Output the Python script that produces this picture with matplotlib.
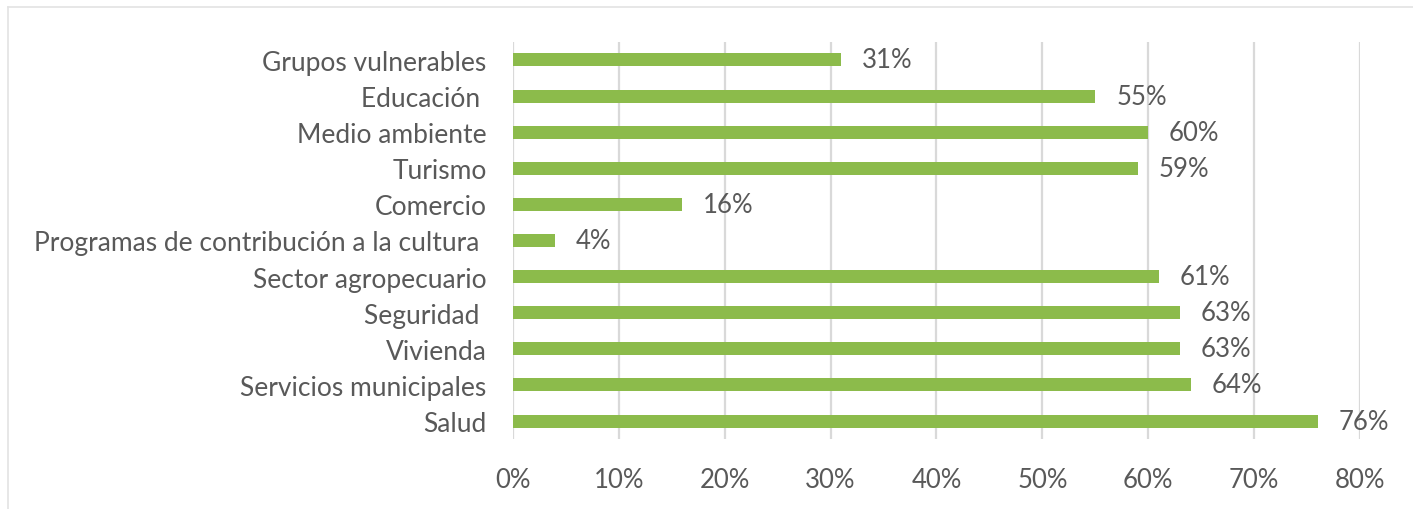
import matplotlib
matplotlib.use("Agg")
import matplotlib.pyplot as plt
from matplotlib.lines import Line2D
from matplotlib.ticker import FuncFormatter, MultipleLocator

# data, top to bottom as shown in the chart
categories = [
    "Grupos vulnerables",
    "Educación ",
    "Medio ambiente",
    "Turismo",
    "Comercio",
    "Programas de contribución a la cultura ",
    "Sector agropecuario",
    "Seguridad ",
    "Vivienda",
    "Servicios municipales",
    "Salud",
]
values = [31, 55, 60, 59, 16, 4, 61, 63, 63, 64, 76]

green = "#8CBB4B"
text_gray = "#595959"
grid_gray = "#D9D9D9"

plt.rcParams["font.family"] = ["Lato", "DejaVu Sans"]

fig = plt.figure(figsize=(14.13, 5.10), dpi=100)
ax = fig.add_axes([0.363, 0.137, 0.5995, 0.779])

ypos = list(range(len(categories)))
ax.barh(ypos, values, height=0.36, color=green, zorder=3)
ax.set_ylim(len(categories) - 0.5, -0.5)
ax.set_xlim(0, 80)

for y, v in zip(ypos, values):
    ax.annotate(f"{v}%", (v, y), xytext=(15, 0), textcoords="offset points",
                ha="left", va="center", fontsize=18.5, color=text_gray)

ax.set_yticks(ypos)
ax.set_yticklabels(categories, fontsize=19)
ax.xaxis.set_major_locator(MultipleLocator(10))
ax.xaxis.set_major_formatter(FuncFormatter(lambda x, _: f"{x:.0f}%"))
ax.tick_params(axis="both", length=0, labelcolor=text_gray)
ax.tick_params(axis="x", labelsize=18.5, pad=20)
ax.tick_params(axis="y", pad=19)

ax.grid(axis="x", color=grid_gray, linewidth=1.6, zorder=0)
for s in ax.spines.values():
    s.set_visible(False)

# light outer frame (top and left edges only)
fig.add_artist(Line2D([8 / 1413, 1], [1 - 8 / 510] * 2, color="#E3E3E3", lw=1.2))
fig.add_artist(Line2D([8 / 1413] * 2, [0, 1 - 8 / 510], color="#E3E3E3", lw=1.2))

fig.savefig("out.png", dpi=100)
